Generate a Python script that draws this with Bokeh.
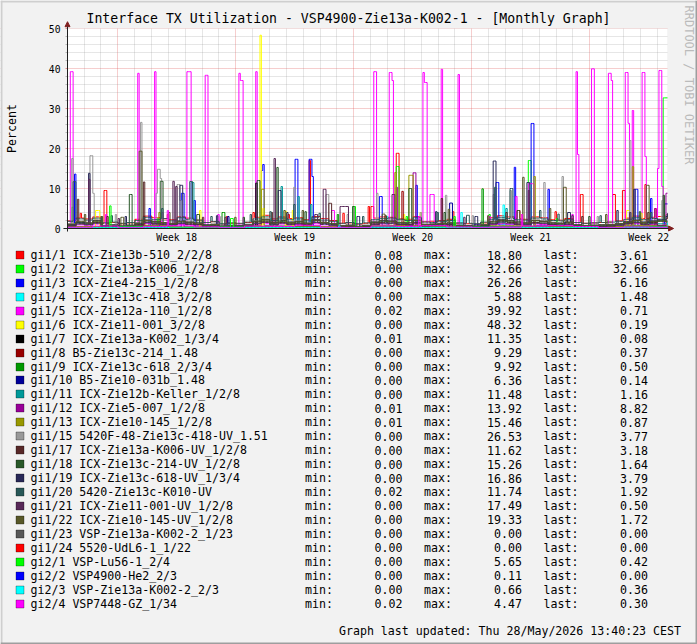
import math
from bokeh.plotting import figure
from bokeh.models import Range1d, FixedTicker, Label, BoxAnnotation, Arrow, NormalHead
from bokeh.embed import file_html
from bokeh.resources import INLINE

# ---------------- texts ----------------
TITLE = "Interface TX Utilization - VSP4900-Zie13a-K002-1 - [Monthly Graph]"
Y_LABEL = "Percent"
UPDATED = "Graph last updated: Thu 28/May/2026 13:40:23 CEST"
WATERMARK = "RRDTOOL / TOBI OETIKER"
WEEK_LABELS = ["Week 18", "Week 19", "Week 20", "Week 21", "Week 22"]

# ---------------- time axis (days since graph start) ----------------
SPAN_DAYS = 35.59
FIRST_WEEK_START = 2.98        # Sunday 00:00 of week 18
STEP_DAYS = 1.0 / 12.0         # 2 h consolidation
BASE_SPAN = 36.0
Y_MAX = 50

# ---------------- legend ----------------
LABELS = [
    "gi1/1 ICX-Zie13b-510_2/2/8", "gi1/2 ICX-Zie13a-K006_1/2/8", "gi1/3 ICX-Zie4-215_1/2/8",
    "gi1/4 ICX-Zie13c-418_3/2/8", "gi1/5 ICX-Zie12a-110_1/2/8", "gi1/6 ICX-Zie11-001_3/2/8",
    "gi1/7 ICX-Zie13a-K002_1/3/4", "gi1/8 B5-Zie13c-214_1.48", "gi1/9 ICX-Zie13c-618_2/3/4",
    "gi1/10 B5-Zie10-031b_1.48", "gi1/11 ICX-Zie12b-Keller_1/2/8", "gi1/12 ICX-Zie5-007_1/2/8",
    "gi1/13 ICX-Zie10-145_1/2/8", "gi1/15 5420F-48-Zie13c-418-UV_1.51", "gi1/17 ICX-Zie13a-K006-UV_1/2/8",
    "gi1/18 ICX-Zie13c-214-UV_1/2/8", "gi1/19 ICX-Zie13c-618-UV_1/3/4", "gi1/20 5420-Zie13c-K010-UV",
    "gi1/21 ICX-Zie11-001-UV_1/2/8", "gi1/22 ICX-Zie10-145-UV_1/2/8", "gi1/23 VSP-Zie13a-K002-2_1/23",
    "gi1/24 5520-UdL6-1_1/22", "gi2/1 VSP-Lu56-1_2/4", "gi2/2 VSP4900-He2_2/3",
    "gi2/3 VSP-Zie13a-K002-2_2/3", "gi2/4 VSP7448-GZ_1/34",
]
COLORS = [
    "#FF0000", "#00FF00", "#0000FF", "#00FFFF", "#FF00FF", "#FFFF00", "#000000", "#990000",
    "#009900", "#000099", "#009999", "#990099", "#999900", "#999999", "#582828", "#285828",
    "#282858", "#285858", "#582858", "#585828", "#585858", "#FF0000", "#00FF00", "#0000FF",
    "#00FFFF", "#FF00FF",
]
MINS = [0.08, 0.00, 0.00, 0.00, 0.02, 0.00, 0.01, 0.00, 0.00, 0.00, 0.00, 0.01, 0.01,
        0.00, 0.00, 0.00, 0.00, 0.02, 0.00, 0.00, 0.00, 0.00, 0.00, 0.00, 0.00, 0.02]
MAXS = [18.80, 32.66, 26.26, 5.88, 39.92, 48.32, 11.35, 9.29, 9.92, 6.36, 11.48, 13.92, 15.46,
        26.53, 11.62, 15.26, 16.86, 11.74, 17.49, 19.33, 0.00, 0.00, 5.65, 0.11, 0.66, 4.47]
LASTS = [3.61, 32.66, 6.16, 1.48, 0.71, 0.19, 0.08, 0.37, 0.50, 0.14, 1.16, 8.82, 0.87,
         3.77, 3.18, 1.64, 3.79, 1.92, 0.50, 1.72, 0.00, 0.00, 0.42, 0.00, 0.36, 0.30]

# ---------------- series: background level (read per half day / per 3 days) ----------------
gi1_1_base = [1.9, 2.6, 2.4, 2.9, 1.3, 1.5, 1.2, 1.4, 2.3, 3.1, 2.7, 2.4,
              2.2, 2.9, 2.6, 2.1, 1.5, 1.7, 1.1, 1.3, 1.2, 1.5, 2.8, 3.3,
              2.4, 2.9, 2.5, 2.7, 2.2, 3.0, 2.5, 2.0, 1.3, 1.4, 1.1, 1.3,
              2.6, 2.9, 2.8, 2.4, 2.3, 3.0, 1.7, 1.8, 2.0, 2.3, 1.3, 1.2,
              1.1, 1.4, 2.7, 3.2, 2.9, 2.5, 2.3, 2.9, 2.7, 2.2, 2.1, 2.5,
              1.5, 1.3, 1.4, 1.5, 1.6, 1.9, 2.6, 3.1, 2.5, 2.8, 3.0, 3.4]
gi1_2_base = [0.3, 0.4, 0.2, 0.5, 0.4, 0.3, 0.4, 0.3, 0.5, 0.4, 0.3, 0.6]
gi1_3_base = [0.5, 0.7, 0.4, 0.8, 0.6, 0.5, 0.7, 0.6, 0.9, 0.7, 0.5, 0.8]
gi1_4_base = [0.3, 0.4, 0.2, 0.4, 0.3, 0.3, 0.5, 0.4, 0.3, 0.4, 0.3, 0.6]
gi1_5_base = [0.5, 0.9, 0.8, 1.1, 0.3, 0.4, 0.3, 0.4, 0.7, 1.2, 1.0, 0.9,
              0.7, 1.0, 0.9, 0.8, 0.4, 0.5, 0.2, 0.3, 0.3, 0.4, 1.0, 1.3,
              0.8, 1.1, 0.9, 1.0, 0.7, 1.2, 0.9, 0.7, 0.4, 0.4, 0.2, 0.3,
              0.9, 1.1, 1.0, 0.8, 0.8, 1.1, 0.5, 0.6, 0.6, 0.8, 0.4, 0.3,
              0.3, 0.4, 1.0, 1.2, 1.1, 0.9, 0.8, 1.1, 1.0, 0.8, 0.7, 0.9,
              0.4, 0.3, 0.3, 0.4, 0.5, 0.7, 0.9, 1.2, 0.8, 1.0, 0.9, 0.7]
gi1_6_base = [0.2, 0.3, 0.1, 0.3, 0.2, 0.2, 0.3, 0.2, 0.3, 0.2, 0.2, 0.3]
gi1_7_base = [0.1, 0.1, 0.05, 0.1, 0.1, 0.05, 0.1, 0.1, 0.1, 0.1, 0.05, 0.1]
gi1_8_base = [0.2, 0.3, 0.1, 0.3, 0.2, 0.2, 0.3, 0.2, 0.3, 0.2, 0.2, 0.3]
gi1_9_base = [0.3, 0.5, 0.2, 0.4, 0.4, 0.3, 0.5, 0.3, 0.4, 0.4, 0.3, 0.5]
gi1_10_base = [0.1, 0.2, 0.1, 0.2, 0.1, 0.1, 0.2, 0.1, 0.2, 0.1, 0.1, 0.2]
gi1_11_base = [0.7, 1.2, 1.0, 1.4, 0.5, 0.6, 0.4, 0.6, 0.9, 1.5, 1.2, 1.1,
               0.9, 1.3, 1.1, 1.0, 0.6, 0.7, 0.4, 0.5, 0.5, 0.6, 1.3, 1.6,
               1.0, 1.4, 1.1, 1.2, 0.9, 1.5, 1.1, 0.9, 0.5, 0.6, 0.4, 0.5,
               1.1, 1.4, 1.3, 1.1, 1.0, 1.4, 0.7, 0.8, 0.8, 1.0, 0.5, 0.5,
               0.4, 0.6, 1.2, 1.6, 1.4, 1.1, 1.0, 1.4, 1.3, 1.0, 0.9, 1.1,
               0.6, 0.5, 0.5, 0.6, 0.7, 0.9, 1.2, 1.5, 1.1, 1.3, 1.2, 1.1]
gi1_12_base = [0.4, 0.6, 0.3, 0.5, 0.5, 0.4, 0.6, 0.4, 0.5, 0.5, 0.4, 0.6]
gi1_13_base = [0.5, 0.8, 0.4, 0.7, 0.6, 0.5, 0.8, 0.6, 0.7, 0.6, 0.5, 0.8]
gi1_15_base = [1.2, 1.9, 1.6, 2.2, 0.8, 1.0, 0.7, 0.9, 1.5, 2.3, 1.8, 2.0,
               1.4, 2.1, 1.9, 1.6, 1.0, 1.2, 0.6, 0.8, 0.7, 1.1, 2.0, 2.4,
               1.6, 2.2, 1.7, 1.9, 1.5, 2.3, 1.7, 1.3, 0.8, 0.9, 0.6, 0.9,
               1.8, 2.1, 2.2, 1.9, 1.5, 2.2, 1.2, 1.1, 1.4, 1.6, 0.9, 0.8,
               0.7, 1.0, 1.9, 2.4, 2.1, 1.8, 1.6, 2.2, 2.0, 1.6, 1.5, 1.8,
               1.0, 0.8, 0.9, 1.0, 1.1, 1.3, 1.8, 2.3, 1.7, 2.1, 2.4, 3.2]
gi1_17_base = [0.8, 1.3, 1.1, 1.5, 0.4, 0.6, 0.4, 0.5, 1.0, 1.6, 1.3, 1.2,
               0.9, 1.4, 1.2, 1.0, 0.6, 0.7, 0.3, 0.5, 0.4, 0.6, 1.4, 1.8,
               1.1, 1.5, 1.2, 1.3, 1.0, 1.6, 1.2, 0.9, 0.5, 0.6, 0.4, 0.5,
               1.2, 1.5, 1.4, 1.1, 1.0, 1.5, 0.7, 0.8, 0.9, 1.0, 0.5, 0.5,
               0.4, 0.6, 1.3, 1.7, 1.5, 1.2, 1.1, 1.5, 1.4, 1.0, 0.9, 1.2,
               0.6, 0.5, 0.5, 0.6, 0.7, 0.9, 1.3, 1.6, 1.2, 1.5, 1.9, 2.4]
gi1_18_base = [0.9, 1.5, 1.3, 1.8, 0.6, 0.8, 0.5, 0.7, 1.2, 1.9, 1.6, 1.4,
               1.1, 1.7, 1.5, 1.2, 0.8, 0.9, 0.5, 0.6, 0.6, 0.8, 1.7, 2.1,
               1.3, 1.8, 1.4, 1.6, 1.2, 2.0, 1.4, 1.1, 0.6, 0.7, 0.5, 0.6,
               1.5, 1.8, 1.7, 1.4, 1.3, 1.9, 0.9, 1.0, 1.1, 1.3, 0.7, 0.6,
               0.5, 0.8, 1.6, 2.0, 1.8, 1.5, 1.3, 1.9, 1.7, 1.3, 1.2, 1.5,
               0.8, 0.6, 0.7, 0.8, 0.9, 1.1, 1.5, 1.9, 1.4, 1.7, 1.8, 1.6]
gi1_19_base = [1.0, 1.6, 1.4, 2.0, 0.7, 0.9, 0.6, 0.8, 1.3, 2.1, 1.7, 1.5,
               1.2, 1.9, 1.6, 1.4, 0.9, 1.0, 0.6, 0.7, 0.7, 0.9, 1.8, 2.3,
               1.5, 2.0, 1.6, 1.8, 1.3, 2.2, 1.5, 1.2, 0.7, 0.8, 0.6, 0.7,
               1.6, 2.0, 1.9, 1.5, 1.4, 2.1, 1.0, 1.1, 1.2, 1.4, 0.8, 0.7,
               0.6, 0.9, 1.7, 2.2, 2.0, 1.6, 1.4, 2.0, 1.8, 1.4, 1.3, 1.6,
               0.9, 0.7, 0.8, 0.9, 1.0, 1.2, 1.7, 2.1, 1.6, 1.9, 2.2, 3.0]
gi1_20_base = [1.8, 2.4, 2.1, 2.6, 1.4, 1.6, 1.3, 1.5, 2.0, 2.8, 2.2, 2.5,
               1.9, 2.7, 2.3, 2.1, 1.5, 1.7, 1.2, 1.4, 1.3, 1.6, 2.4, 2.9,
               2.0, 2.6, 2.2, 2.4, 1.9, 2.8, 2.1, 1.8, 1.3, 1.5, 1.2, 1.4,
               2.2, 2.5, 2.6, 2.3, 2.0, 2.7, 1.6, 1.5, 1.8, 2.0, 1.4, 1.3,
               1.2, 1.6, 2.3, 2.8, 2.5, 2.2, 2.1, 2.6, 2.4, 2.0, 1.9, 2.2,
               1.5, 1.3, 1.4, 1.5, 1.6, 1.8, 2.3, 2.7, 2.2, 2.5, 2.1, 1.9]
gi1_21_base = [0.6, 1.1, 0.9, 1.3, 0.4, 0.5, 0.3, 0.5, 0.8, 1.4, 1.1, 1.0,
               0.8, 1.2, 1.0, 0.9, 0.5, 0.6, 0.3, 0.4, 0.4, 0.5, 1.2, 1.5,
               0.9, 1.3, 1.0, 1.1, 0.8, 1.4, 1.0, 0.8, 0.4, 0.5, 0.3, 0.4,
               1.0, 1.3, 1.2, 1.0, 0.9, 1.3, 0.6, 0.7, 0.8, 0.9, 0.5, 0.4,
               0.3, 0.5, 1.1, 1.4, 1.3, 1.0, 0.9, 1.3, 1.2, 0.9, 0.8, 1.0,
               0.5, 0.4, 0.4, 0.5, 0.6, 0.8, 1.1, 1.4, 1.0, 1.2, 0.7, 0.5]
gi1_22_base = [1.1, 1.7, 1.4, 1.9, 0.6, 0.8, 0.5, 0.7, 1.3, 2.0, 1.7, 1.5,
               1.2, 1.8, 1.6, 1.3, 0.8, 1.0, 0.5, 0.7, 0.6, 0.9, 1.8, 2.2,
               1.4, 1.9, 1.5, 1.7, 1.3, 2.1, 1.5, 1.2, 0.7, 0.8, 0.5, 0.7,
               1.6, 1.9, 1.8, 1.5, 1.4, 2.0, 1.0, 1.1, 1.2, 1.4, 0.7, 0.6,
               0.6, 0.9, 1.7, 2.1, 1.9, 1.6, 1.4, 2.0, 1.8, 1.4, 1.3, 1.6,
               0.9, 0.7, 0.8, 0.9, 1.0, 1.2, 1.6, 2.0, 1.5, 1.8, 1.9, 1.7]
gi1_23_base = [0.0]
gi1_24_base = [0.0]
gi2_1_base = [0.2, 0.4, 0.2, 0.3, 0.3, 0.2, 0.4, 0.3, 0.3, 0.3, 0.2, 0.4]
gi2_2_base = [0.02, 0.03, 0.01, 0.03, 0.02, 0.02, 0.03, 0.02, 0.03, 0.02, 0.02, 0.01]
gi2_3_base = [0.2, 0.3, 0.1, 0.3, 0.2, 0.2, 0.3, 0.2, 0.3, 0.2, 0.2, 0.3]
gi2_4_base = [0.3, 0.6, 0.2, 0.5, 0.7, 0.4, 0.2, 0.6, 0.5, 0.8, 0.3, 0.2,
              0.6, 0.5, 0.7, 0.4, 0.2, 0.3, 0.6, 0.7, 0.5, 0.2, 0.4, 0.3]

# ---------------- series: bursts (start day, end day, percent) ----------------
gi1_1_peaks = [(0.75, 0.85, 3.8), (2.19, 2.31, 9.5), (5.90, 6.00, 3.5), (9.40, 9.50, 3.0),
               (11.00, 11.10, 4.0), (13.10, 13.20, 3.5), (14.30, 14.42, 17.0), (16.30, 16.40, 3.8),
               (17.80, 17.90, 5.5), (18.03, 18.15, 5.5), (19.52, 19.70, 18.8), (22.80, 22.90, 4.2),
               (26.70, 26.80, 4.5), (28.90, 29.00, 4.2), (30.43, 30.61, 8.5), (32.33, 32.51, 8.5),
               (32.92, 33.10, 9.5), (34.23, 34.35, 11.0), (34.80, 34.90, 5.0)]
gi1_2_peaks = [(0.24, 0.36, 5.3), (5.30, 5.40, 2.5), (16.95, 17.05, 5.5), (19.52, 19.70, 15.5),
               (20.10, 20.20, 3.0), (25.00, 25.10, 3.5), (27.35, 27.53, 17.0), (29.00, 29.10, 2.5),
               (35.36, 35.59, 32.66)]
gi1_3_peaks = [(0.42, 0.53, 13.6), (4.85, 4.95, 5.0), (6.76, 6.88, 8.8), (7.53, 7.60, 7.0),
               (11.51, 11.57, 14.5), (11.57, 11.69, 16.0), (13.53, 13.64, 17.3), (14.36, 14.53, 17.3),
               (14.53, 14.59, 13.0), (18.51, 18.63, 8.0), (20.64, 20.76, 10.8), (25.45, 25.57, 11.5),
               (26.52, 26.58, 15.3), (27.53, 27.64, 26.26), (28.48, 28.59, 9.8), (33.70, 33.80, 9.8),
               (34.59, 34.70, 7.5), (35.45, 35.59, 6.16)]
gi1_4_peaks = [(12.00, 12.10, 2.5), (18.90, 19.00, 3.0), (23.30, 23.40, 4.0), (25.80, 25.90, 5.88)]
gi1_5_peaks = [(0.18, 0.30, 39.2), (2.25, 2.35, 3.5), (4.15, 4.27, 38.8), (5.16, 5.28, 39.2),
               (5.55, 5.65, 4.0), (7.12, 7.30, 39.2), (8.13, 8.31, 38.3), (8.90, 9.00, 3.5),
               (10.14, 10.26, 38.8), (10.26, 10.38, 37.0), (11.15, 11.27, 39.2), (15.70, 15.80, 4.5),
               (18.15, 18.33, 39.2), (19.10, 19.22, 39.0), (19.22, 19.30, 37.0), (21.12, 21.18, 39.0),
               (21.18, 21.36, 36.5), (21.53, 21.71, 8.5), (22.13, 22.25, 39.8), (23.14, 23.25, 38.5),
               (25.00, 25.10, 3.0), (26.58, 26.70, 8.0), (27.35, 27.64, 11.2), (29.90, 30.00, 3.5),
               (30.14, 30.25, 39.2), (30.25, 30.31, 18.5), (31.08, 31.26, 39.92), (32.09, 32.21, 38.8),
               (32.21, 32.30, 37.0), (33.10, 33.22, 39.0), (33.22, 33.30, 26.3), (33.46, 33.57, 29.5),
               (34.11, 34.23, 39.0), (34.23, 34.29, 18.0), (35.00, 35.06, 15.0), (35.12, 35.24, 39.5),
               (35.24, 35.36, 10.5)]
gi1_6_peaks = [(1.66, 1.90, 4.5), (7.83, 7.95, 4.5), (11.39, 11.51, 48.32), (11.60, 11.70, 5.0),
               (12.90, 13.00, 4.3), (13.30, 13.40, 4.5), (19.90, 20.00, 3.5), (20.90, 21.00, 4.0),
               (26.90, 27.00, 3.5), (33.20, 33.30, 4.5), (34.00, 34.10, 3.8)]
gi1_7_peaks = [(4.40, 4.50, 2.0), (11.15, 11.27, 11.35)]
gi1_8_peaks = [(4.50, 4.60, 3.0), (13.90, 14.00, 2.5), (19.80, 19.90, 9.29)]
gi1_9_peaks = [(9.20, 9.30, 4.0), (16.00, 16.10, 3.5), (24.60, 24.70, 9.92)]
gi1_10_peaks = [(9.50, 9.60, 3.0), (22.70, 22.80, 6.36)]
gi1_11_peaks = [(7.30, 7.47, 11.48), (12.64, 12.76, 10.5), (13.64, 13.76, 8.0), (14.42, 14.53, 6.0),
                (26.00, 26.10, 5.0), (33.30, 33.40, 4.0)]
gi1_12_peaks = [(19.46, 19.52, 10.3), (20.53, 20.70, 13.92), (34.80, 34.90, 5.0), (35.47, 35.59, 8.82)]
gi1_13_peaks = [(5.40, 5.50, 4.0), (11.51, 11.63, 9.8), (19.40, 19.46, 14.0), (20.29, 20.47, 13.3),
                (27.64, 27.76, 13.0), (33.46, 33.57, 15.46)]
gi1_15_peaks = [(0.24, 0.36, 17.5), (1.30, 1.48, 18.2), (1.48, 1.60, 8.8), (2.80, 2.90, 3.5),
                (4.33, 4.45, 26.53), (5.22, 5.30, 8.8), (5.34, 5.46, 14.8), (5.46, 5.52, 12.5),
                (6.53, 6.64, 11.0), (6.64, 6.70, 7.0), (9.10, 9.20, 3.0), (13.41, 13.53, 10.3),
                (15.36, 15.48, 8.5), (16.60, 16.70, 3.5), (18.33, 18.45, 8.8), (20.90, 21.00, 4.0),
                (22.42, 22.54, 8.3), (24.00, 24.10, 3.2), (25.21, 25.30, 8.5), (26.22, 26.30, 9.5),
                (28.24, 28.36, 11.5), (29.36, 29.42, 13.0), (31.40, 31.50, 3.0), (33.30, 33.40, 22.0),
                (35.24, 35.30, 7.0)]
gi1_17_peaks = [(0.59, 0.65, 7.3), (2.30, 2.40, 3.0), (4.51, 4.57, 11.62), (8.00, 8.10, 2.8),
                (12.10, 12.20, 4.0), (15.54, 15.66, 6.3), (18.80, 18.90, 3.2), (22.13, 22.25, 7.5),
                (26.00, 26.10, 4.0), (30.50, 30.60, 3.0), (34.40, 34.50, 4.0)]
gi1_18_peaks = [(2.00, 2.10, 3.0), (3.68, 3.80, 8.5), (5.52, 5.64, 11.8), (7.70, 7.80, 3.5),
                (10.40, 10.50, 2.8), (11.27, 11.39, 12.0), (12.40, 12.52, 15.26), (14.10, 14.20, 4.2),
                (16.90, 17.00, 5.5), (20.29, 20.40, 10.0), (22.30, 22.40, 4.0), (26.70, 26.80, 4.5),
                (30.90, 31.00, 3.0), (33.90, 34.00, 4.2), (35.30, 35.40, 8.3)]
gi1_19_peaks = [(1.25, 1.36, 13.8), (3.40, 3.50, 3.0), (6.70, 6.82, 10.8), (8.80, 8.90, 3.2),
                (12.52, 12.64, 9.5), (13.00, 13.10, 4.0), (17.20, 17.30, 3.0), (21.80, 21.90, 4.2),
                (24.20, 24.30, 3.0), (25.27, 25.39, 16.86), (27.29, 27.41, 11.5), (29.70, 29.80, 4.0),
                (32.60, 32.70, 4.5), (33.57, 33.70, 9.8)]
gi1_20_peaks = [(0.30, 0.48, 11.7), (2.60, 2.70, 3.2), (5.60, 5.70, 5.0), (7.24, 7.42, 11.74),
                (8.50, 8.60, 3.0), (10.80, 10.90, 3.5), (12.00, 12.10, 4.2), (13.41, 13.47, 6.0),
                (14.90, 15.00, 3.8), (17.50, 17.60, 3.0), (21.90, 22.00, 4.0), (23.70, 23.80, 3.3),
                (25.33, 25.45, 10.3), (26.28, 26.40, 10.0), (28.00, 28.10, 4.5), (29.10, 29.20, 3.6),
                (31.60, 31.70, 3.2), (34.60, 34.70, 4.0)]
gi1_21_peaks = [(1.25, 1.36, 12.3), (3.00, 3.10, 2.5), (6.23, 6.35, 11.8), (6.41, 6.47, 10.5),
                (9.30, 9.40, 2.8), (12.22, 12.34, 17.49), (14.70, 14.80, 3.5), (15.19, 15.31, 9.8),
                (16.20, 16.67, 5.5), (19.28, 19.40, 8.5), (23.50, 23.60, 2.8), (27.35, 27.45, 9.5),
                (29.90, 30.00, 3.2), (33.30, 33.40, 4.0)]
gi1_22_peaks = [(1.00, 1.10, 3.5), (3.20, 3.30, 2.8), (4.27, 4.39, 19.33), (6.00, 6.10, 4.0),
                (9.90, 10.00, 2.8), (12.80, 12.90, 4.5), (13.90, 14.00, 4.5), (18.70, 18.80, 3.6),
                (22.60, 22.70, 4.8), (24.90, 25.00, 3.2), (26.99, 27.10, 12.8), (28.60, 28.70, 5.0),
                (29.42, 29.60, 10.3), (31.90, 32.00, 3.5), (34.35, 34.47, 10.8)]
gi1_23_peaks = []
gi1_24_peaks = []
gi2_1_peaks = [(2.50, 2.60, 5.65), (9.70, 9.80, 2.5), (22.90, 23.00, 3.0)]
gi2_2_peaks = [(18.00, 18.10, 0.11)]
gi2_3_peaks = [(16.10, 16.20, 0.66)]
gi2_4_peaks = [(5.90, 6.00, 4.47), (20.80, 20.90, 3.0), (26.90, 27.00, 3.5)]

BASES = [gi1_1_base, gi1_2_base, gi1_3_base, gi1_4_base, gi1_5_base, gi1_6_base, gi1_7_base,
         gi1_8_base, gi1_9_base, gi1_10_base, gi1_11_base, gi1_12_base, gi1_13_base, gi1_15_base,
         gi1_17_base, gi1_18_base, gi1_19_base, gi1_20_base, gi1_21_base, gi1_22_base, gi1_23_base,
         gi1_24_base, gi2_1_base, gi2_2_base, gi2_3_base, gi2_4_base]
PEAKS = [gi1_1_peaks, gi1_2_peaks, gi1_3_peaks, gi1_4_peaks, gi1_5_peaks, gi1_6_peaks, gi1_7_peaks,
         gi1_8_peaks, gi1_9_peaks, gi1_10_peaks, gi1_11_peaks, gi1_12_peaks, gi1_13_peaks, gi1_15_peaks,
         gi1_17_peaks, gi1_18_peaks, gi1_19_peaks, gi1_20_peaks, gi1_21_peaks, gi1_22_peaks, gi1_23_peaks,
         gi1_24_peaks, gi2_1_peaks, gi2_2_peaks, gi2_3_peaks, gi2_4_peaks]

N_STEPS = int(math.ceil(SPAN_DAYS / STEP_DAYS - 1e-9))


def build_series(base, peaks, last):
    cell = BASE_SPAN / len(base)
    vals = [base[min(int(i * STEP_DAYS / cell + 1e-9), len(base) - 1)] for i in range(N_STEPS)]
    for s, e, v in peaks:
        i0 = int(round(s / STEP_DAYS))
        i1 = max(i0 + 1, int(round(e / STEP_DAYS)))
        for i in range(i0, min(i1, N_STEPS)):
            vals[i] = v
    vals[-1] = last
    xs = [i * STEP_DAYS for i in range(N_STEPS)] + [SPAN_DAYS]
    return xs, vals + [last]


# ---------------- layout (canvas pixels) ----------------
W, H = 697, 644
FX0, FY0, FW, FH = 67, 28, 600, 200          # chart canvas area
PX_DAY = FW / SPAN_DAYS
PX_PCT = FH / Y_MAX
FONT = "DejaVu Sans Mono"
BG = "#F2F2F2"

# whole canvas is the frame; axes are pinned at x=0 / y=0
x_range = Range1d(-FX0 / PX_DAY, (W - FX0) / PX_DAY)
y_range = Range1d(-(H - FY0 - FH) / PX_PCT, (FY0 + FH) / PX_PCT)
p = figure(width=W, height=H, x_range=x_range, y_range=y_range,
           output_backend="svg", toolbar_location=None,
           min_border=0, min_border_left=0, min_border_right=0,
           min_border_top=0, min_border_bottom=0)
p.background_fill_color = BG
p.border_fill_color = BG
p.outline_line_color = None

# white canvas under the grid
p.add_layout(BoxAnnotation(left=0, right=SPAN_DAYS, bottom=0, top=Y_MAX, fill_color="white",
                           fill_alpha=1.0, line_color=None, level="image"))

# grids
week_starts = [FIRST_WEEK_START + 7 * k for k in range(5)]
day_lines = []
d = FIRST_WEEK_START - 2
while d < SPAN_DAYS:
    if all(abs(d - w) > 1e-6 for w in week_starts):
        day_lines.append(round(d, 4))
    d += 1
mid_weeks = [round(w + 3.5, 4) for w in week_starts]
y_major = [0, 10, 20, 30, 40, 50]
y_minor = [v for v in range(2, Y_MAX, 2) if v % 10 != 0]

p.xgrid.ticker = FixedTicker(ticks=week_starts, minor_ticks=day_lines)
p.ygrid.ticker = FixedTicker(ticks=y_major, minor_ticks=y_minor)
for g in (p.xgrid[0], p.ygrid[0]):
    g.grid_line_color = "#DE4F4F"
    g.grid_line_alpha = 0.55
    g.grid_line_dash = "1 1"
    g.minor_grid_line_color = "#8F8F8F"
    g.minor_grid_line_alpha = 0.45
    g.minor_grid_line_dash = "1 1"

# hide grid lines outside the chart area (drawn right after the grids)
for kw in (dict(right=0), dict(left=SPAN_DAYS),
           dict(left=0, right=SPAN_DAYS, bottom=Y_MAX),
           dict(left=0, right=SPAN_DAYS, top=0)):
    p.add_layout(BoxAnnotation(fill_color=BG, fill_alpha=1.0, line_color=None,
                               level="underlay", **kw))

# axes pinned inside the canvas
xa = p.xaxis[0]
xa.fixed_location = 0
xa.bounds = (0, SPAN_DAYS)
xa.ticker = FixedTicker(ticks=mid_weeks)
xa.major_label_overrides = {t: lab for t, lab in zip(mid_weeks, WEEK_LABELS)}
xa.axis_line_color = None
xa.major_tick_line_color = None
xa.minor_tick_line_color = None
xa.major_label_standoff = -3
xa.major_label_text_font = FONT
xa.major_label_text_font_size = "9.7px"
xa.major_label_text_color = "black"

ya = p.yaxis[0]
ya.fixed_location = 0
ya.bounds = (0, Y_MAX)
ya.ticker = FixedTicker(ticks=y_major, minor_ticks=y_minor)
ya.axis_line_color = None
ya.major_tick_out = 2
ya.major_tick_in = 0
ya.major_tick_line_color = "#DE4F4F"
ya.major_tick_line_alpha = 0.6
ya.minor_tick_out = 2
ya.minor_tick_in = 0
ya.minor_tick_line_color = "#8F8F8F"
ya.minor_tick_line_alpha = 0.6
ya.major_label_standoff = 5
ya.major_label_text_font = FONT
ya.major_label_text_font_size = "9.7px"
ya.major_label_text_color = "black"
ya.axis_label = Y_LABEL
ya.axis_label_text_font = FONT
ya.axis_label_text_font_size = "11.6px"
ya.axis_label_text_font_style = "normal"
ya.axis_label_text_color = "black"
ya.axis_label_standoff = 27

# data lines (legend order = drawing order)
for base, peaks, last, color in zip(BASES, PEAKS, LASTS, COLORS):
    xs, ys = build_series(base, peaks, last)
    p.step(xs, ys, mode="after", line_color=color, line_width=1)

# axis lines with arrows
p.add_layout(Arrow(end=NormalHead(size=5, fill_color="#801F1F", line_color="#801F1F"),
                   x_start=0, y_start=-0.75, x_end=0, y_end=Y_MAX + 1.7,
                   line_color="#1F1F1F", line_width=1))
p.add_layout(Arrow(end=NormalHead(size=5, fill_color="#801F1F", line_color="#801F1F"),
                   x_start=-0.24, y_start=0, x_end=SPAN_DAYS + 0.36, y_end=0,
                   line_color="#1F1F1F", line_width=1))


def sx(cx):
    return cx


def sy(cy):
    return H - cy


def label(cx, cy, text, size, align="left", color="black", angle=0.0):
    p.add_layout(Label(x=sx(cx), y=sy(cy), x_units="screen", y_units="screen", text=text,
                       text_font=FONT, text_font_size=size, text_color=color,
                       text_align=align, text_baseline="middle", angle=angle))


def box(cx0, cy0, cx1, cy1, fill, line=None):
    p.add_layout(BoxAnnotation(left=sx(cx0), right=sx(cx1), top=sy(cy0), bottom=sy(cy1),
                               left_units="screen", right_units="screen",
                               top_units="screen", bottom_units="screen",
                               fill_color=fill, fill_alpha=1.0,
                               line_color=line, line_width=1))


# title and watermark
label(348, 18, TITLE, "13.2px", align="center")
label(688, 5, WATERMARK, "12px", color="#BBBBBB", angle=-math.pi / 2)

# legend
ROW0, ROW_STEP = 254.5, 13.94
LEG = "11.6px"
for i, name in enumerate(LABELS):
    cy = ROW0 + ROW_STEP * i
    cb = math.floor(cy) + 0.5
    box(15.5, cb - 4, 23.5, cb + 4, COLORS[i], "black")
    label(30, cy, name, LEG)
    label(304.5, cy, "min:", LEG)
    label(402, cy, f"{MINS[i]:.2f}", LEG, align="right")
    label(423.5, cy, "max:", LEG)
    label(521.5, cy, f"{MAXS[i]:.2f}", LEG, align="right")
    label(543, cy, "last:", LEG)
    label(647.5, cy, f"{LASTS[i]:.2f}", LEG, align="right")

label(680.5, 630, UPDATED, LEG, align="right")

# bevelled image border
box(0, 0, W, 2, "#CFCFCF")
box(0, 0, 2, H, "#CFCFCF")
box(0, H - 2, W, H, "#9E9E9E")
box(W - 2, 0, W, H, "#9E9E9E")

open("out.html", "w").write(file_html(p, INLINE))
